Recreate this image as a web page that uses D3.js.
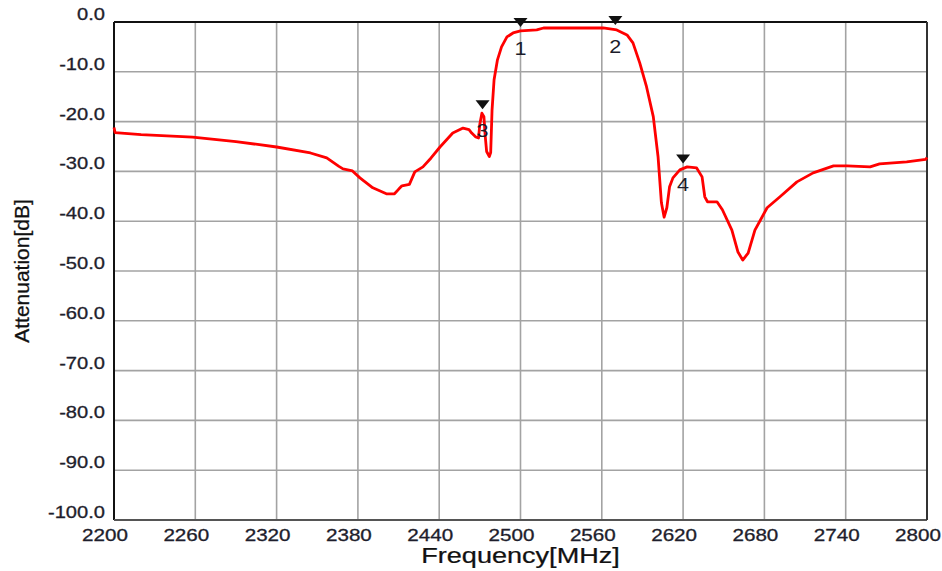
<!DOCTYPE html>
<html>
<head>
<meta charset="utf-8">
<style>
    body { margin: 0; background: #fff; }
    svg { display: block; font-family: 'Liberation Sans', Arial, sans-serif; }
    .grid line { stroke: #a3a3a3; stroke-width: 1.6; }
    .tick-label { fill: #1e1e2c; stroke: #1e1e2c; stroke-width: 0.3; font-size: 16.5px; }
</style>
</head>
<body>
<svg width="942" height="571"></svg>
<script src="https://cdn.jsdelivr.net/npm/d3@7"></script>
<script>
// measured trace (MHz, dB)
let freq = [2200, 2200.8, 2220, 2258, 2290, 2320, 2345, 2357, 2366, 2369, 2376, 2381.5, 2391, 2401, 2407,
    2410, 2412.5, 2418, 2422, 2428, 2434, 2440.6, 2450, 2457.6, 2462, 2464, 2467, 2469, 2470, 2471.5,
    2473, 2474, 2475, 2477, 2478, 2479, 2480.5, 2483, 2486, 2490, 2494.5, 2500, 2512, 2517, 2561,
    2571, 2578.6, 2583, 2588, 2593, 2598, 2601.5, 2604, 2606, 2608, 2610, 2612.5, 2617.6, 2623, 2630,
    2634, 2636, 2638, 2645, 2649, 2656, 2660.5, 2664, 2668, 2673, 2682, 2691.5, 2704, 2716, 2731,
    2741, 2758, 2765, 2785, 2799, 2800];
let atten = [-21.2, -22.2, -22.6, -23.1, -24.0, -25.1, -26.3, -27.3, -29.0, -29.5, -29.9, -31.3, -33.3, -34.5, -34.5,
    -33.6, -32.9, -32.6, -30.1, -29.1, -27.3, -25.1, -22.3, -21.3, -21.6, -22.3, -23.1, -23.3, -20.5, -18.3,
    -19.0, -23.0, -26.0, -27.0, -26.2, -17.7, -11.6, -7.6, -5.0, -3.0, -2.2, -1.8, -1.6, -1.2, -1.2,
    -1.6, -2.6, -4.2, -8.2, -13.0, -19.0, -27.0, -36.3, -39.2, -37.3, -33.1, -31.3, -29.7, -29.1, -29.3,
    -31.1, -35.1, -36.1, -36.1, -37.7, -41.8, -46.2, -47.8, -46.4, -41.8, -37.3, -35.1, -32.1, -30.3, -28.9,
    -28.9, -29.1, -28.5, -28.1, -27.6, -27.2];

let markerFreq = [2500, 2570, 2472, 2620];
let markerVal = [-1.8, -1.4, -18.3, -29.2];
let markerName = ["1", "2", "3", "4"];

let xTicks = [2200, 2260, 2320, 2380, 2440, 2500, 2560, 2620, 2680, 2740, 2800];
let yTicks = [0, -10, -20, -30, -40, -50, -60, -70, -80, -90, -100];

let svg = d3.select("svg");
let margin = { top: 22, right: 15, bottom: 51, left: 114 };
let width = 942, height = 571;

let x = d3.scaleLinear().domain([2200, 2800]).range([margin.left, width - margin.right]);
let y = d3.scaleLinear().domain([-100, 0]).range([height - margin.bottom, margin.top]);

// grid
let grid = svg.append("g").attr("class", "grid");
grid.selectAll(".vx").data(xTicks.slice(1, -1)).join("line")
    .attr("x1", d => x(d)).attr("x2", d => x(d))
    .attr("y1", y(0)).attr("y2", y(-100));
grid.selectAll(".hy").data(yTicks.slice(1, -1)).join("line")
    .attr("x1", x(2200)).attr("x2", x(2800))
    .attr("y1", d => y(d)).attr("y2", d => y(d));

// frame
svg.append("line").attr("x1", x(2200)).attr("x2", x(2800)).attr("y1", y(0)).attr("y2", y(0))
    .attr("stroke", "#111").attr("stroke-width", 2);
svg.append("line").attr("x1", x(2200)).attr("x2", x(2200)).attr("y1", y(0)).attr("y2", y(-100))
    .attr("stroke", "#111").attr("stroke-width", 2);
svg.append("line").attr("x1", x(2200)).attr("x2", x(2800)).attr("y1", y(-100)).attr("y2", y(-100))
    .attr("stroke", "#555").attr("stroke-width", 2);
svg.append("line").attr("x1", x(2800)).attr("x2", x(2800)).attr("y1", y(0)).attr("y2", y(-100))
    .attr("stroke", "#333").attr("stroke-width", 2);

// tick labels
svg.append("g").selectAll("text").data(xTicks).join("text")
    .attr("class", "tick-label")
    .attr("text-anchor", "middle")
    .attr("transform", d => `translate(${x(d) - 9},${y(-100) + 21}) scale(1.25,1)`)
    .text(d => d);

svg.append("g").selectAll("text").data(yTicks).join("text")
    .attr("class", "tick-label")
    .attr("text-anchor", "end")
    .attr("transform", d => `translate(105,${y(d) - 2}) scale(1.22,1)`)
    .text(d => d3.format(".1f")(d).replace("−", "-"));

// axis titles
svg.append("text")
    .attr("text-anchor", "middle")
    .attr("font-size", "21.5px")
    .attr("fill", "#111")
    .attr("stroke", "#111").attr("stroke-width", 0.25)
    .attr("transform", `translate(${(x(2200) + x(2800)) / 2},563) scale(1.26,1)`)
    .text("Frequency[MHz]");

svg.append("text")
    .attr("text-anchor", "middle")
    .attr("font-size", "21px")
    .attr("fill", "#111")
    .attr("stroke", "#111").attr("stroke-width", 0.25)
    .attr("transform", "translate(29,271) rotate(-90)")
    .text("Attenuation[dB]");

// trace
let line = d3.line().x(d => x(d[0])).y(d => y(d[1]));
svg.append("path")
    .datum(d3.zip(freq, atten))
    .attr("fill", "none")
    .attr("stroke", "#ff0000")
    .attr("stroke-width", 2.8)
    .attr("stroke-linejoin", "round")
    .attr("d", line);

// markers
let markers = svg.append("g").selectAll("g").data(d3.range(markerFreq.length)).join("g")
    .attr("transform", i => `translate(${x(markerFreq[i])},${y(markerVal[i])})`);
markers.append("path")
    .attr("d", "M-7,-13 L7,-13 L0,-4 Z")
    .attr("fill", "#111");
markers.append("text")
    .attr("text-anchor", "middle")
    .attr("font-size", "18px")
    .attr("fill", "#1c1c2a")
    .attr("transform", "translate(0,24) scale(1.2,1)")
    .text(i => markerName[i]);
</script>
</body>
</html>
